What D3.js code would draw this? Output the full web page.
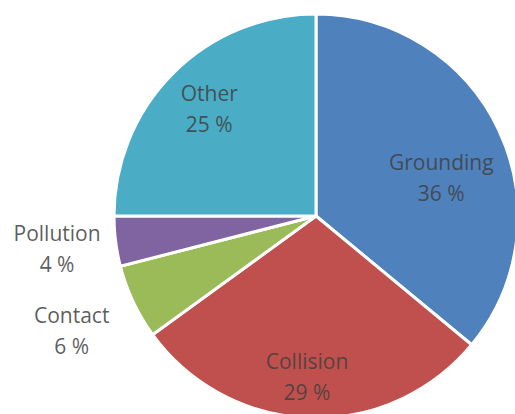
<!DOCTYPE html>
<html>
<head>
<meta charset="utf-8">
<script src="https://cdn.jsdelivr.net/npm/d3@7"></script>
<style>
  html, body { margin: 0; padding: 0; background: #fff; }
  svg { display: block; }
</style>
</head>
<body>
<svg id="chart" width="515" height="414"></svg>
<script>
// Share of incidents by type (percent), clockwise from 12 o'clock
const categories = ["Grounding", "Collision", "Contact", "Pollution", "Other"];
const shares = [36, 29, 6, 4, 25];
const sliceColors = ["#4F81BD", "#C0504D", "#9BBB59", "#8064A2", "#4BACC6"];

const width = 515, height = 414;
const cx = 316, cy = 216, radius = 202;

// Label placement: distance from centre and small angular nudge (degrees)
const labelLayout = {
  Grounding: { r: 131, nudge: 8.2 },
  Collision: { r: 161, nudge: 1.4 },
  Contact:   { r: 270, nudge: 0 },
  Pollution: { r: 261, nudge: 0 },
  Other:     { r: 151, nudge: 0 }
};

const data = categories.map((c, i) => ({ name: c, value: shares[i], color: sliceColors[i] }));

const svg = d3.select("#chart");
const g = svg.append("g").attr("transform", `translate(${cx},${cy})`);

const pie = d3.pie().sort(null).value(d => d.value);
const arc = d3.arc().innerRadius(0).outerRadius(radius);
const arcs = pie(data);

g.selectAll("path.slice")
  .data(arcs)
  .join("path")
  .attr("class", "slice")
  .attr("d", arc)
  .attr("fill", d => d.data.color)
  .attr("stroke", "#fff")
  .attr("stroke-width", 3)
  .attr("stroke-linejoin", "miter");

const labels = g.selectAll("text.lbl")
  .data(arcs)
  .join("text")
  .attr("class", "lbl")
  .attr("text-anchor", "middle")
  .attr("font-family", "'Open Sans', sans-serif")
  .attr("font-size", 21)
  .attr("fill", "#404040")
  .attr("fill-opacity", 0.85)
  .attr("transform", d => {
    const L = labelLayout[d.data.name];
    const a = (d.startAngle + d.endAngle) / 2 + L.nudge * Math.PI / 180;
    const [x, y] = d3.pointRadial(a, L.r);
    return `translate(${x},${y})`;
  });

labels.append("tspan")
  .attr("x", 0)
  .attr("y", -8)
  .text(d => d.data.name);

labels.append("tspan")
  .attr("x", 0)
  .attr("y", 23)
  .text(d => `${d.data.value} %`);
</script>
</body>
</html>
